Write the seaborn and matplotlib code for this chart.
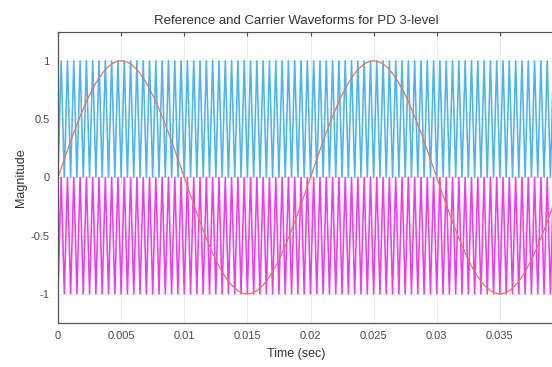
import numpy as np
import pandas as pd
import seaborn as sns
import matplotlib.pyplot as plt

# Signal parameters
ref_freq = 50.0          # Hz, reference sine (peak at 0.005 s)
ref_amp = 1.0
carrier_freq = 2000.0    # Hz, triangular carriers
upper_levels = [0.0, 1.0]    # cyan carrier swings between these
lower_levels = [-1.0, 0.0]   # magenta carrier swings between these
t_end = 0.04

x_ticks = [0, 0.005, 0.01, 0.015, 0.02, 0.025, 0.03, 0.035]
x_tick_labels = ["0", "0.005", "0.01", "0.015", "0.02", "0.025", "0.03", "0.035"]
y_ticks = [-1, -0.5, 0, 0.5, 1]
y_tick_labels = ["-1", "-0.5", "0", "0.5", "1"]

sns.set_style("white")
plt.rcParams['font.family'] = ['Liberation Sans', 'DejaVu Sans']

# triangular carriers: vertices every half period
n_half = int(round(t_end * carrier_freq * 2))
t_tri = np.arange(n_half + 1) / (2 * carrier_freq)
phase = np.arange(n_half + 1) % 2
upperDF = pd.DataFrame({"t": t_tri, "v": np.where(phase == 0, upper_levels[0], upper_levels[1])})
lowerDF = pd.DataFrame({"t": t_tri, "v": np.where(phase == 0, lower_levels[0], lower_levels[1])})

t_ref = np.linspace(0, t_end, 2001)
refDF = pd.DataFrame({"t": t_ref, "v": ref_amp * np.sin(2 * np.pi * ref_freq * t_ref)})

fig = plt.figure(figsize=(5.52, 3.67), dpi=100)
ax = fig.add_axes([58 / 552, 44 / 367, 505 / 552, 291.3 / 367])

text_col = "#4a4a4a"
ax.grid(True, color="#e8e8e8", linewidth=0.6)
sns.lineplot(data=upperDF, x="t", y="v", ax=ax, color="#4cb4ee", linewidth=1.15,
             estimator=None, sort=False)
sns.lineplot(data=lowerDF, x="t", y="v", ax=ax, color="#ee3cee", linewidth=1.15,
             estimator=None, sort=False)
sns.lineplot(data=refDF, x="t", y="v", ax=ax, color="#e8764f", linewidth=0.9,
             estimator=None, sort=False)

ax.set_xlim(0, t_end)
ax.set_ylim(-1.25, 1.25)
ax.set_xticks(x_ticks)
ax.set_xticklabels(x_tick_labels)
ax.set_yticks(y_ticks)
ax.set_yticklabels(y_tick_labels)
ax.tick_params(direction="in", length=3, width=0.8, top=True, right=True,
               labelsize=8, colors=text_col, pad=6)
for s in ax.spines.values():
    s.set_color("#555555")
    s.set_linewidth(0.9)

ax.set_xlabel("")
ax.set_ylabel("Magnitude", fontsize=9, color="#333333", labelpad=3)
ax.text(0.471, -0.085, "Time (sec)", transform=ax.transAxes, ha="center", va="top",
        fontsize=9, color="#333333")
ax.text(0.471, 1.015, "Reference and Carrier Waveforms for PD 3-level", transform=ax.transAxes,
        ha="center", va="bottom", fontsize=9.5, color="#333333")

fig.savefig("out.png", dpi=100)
